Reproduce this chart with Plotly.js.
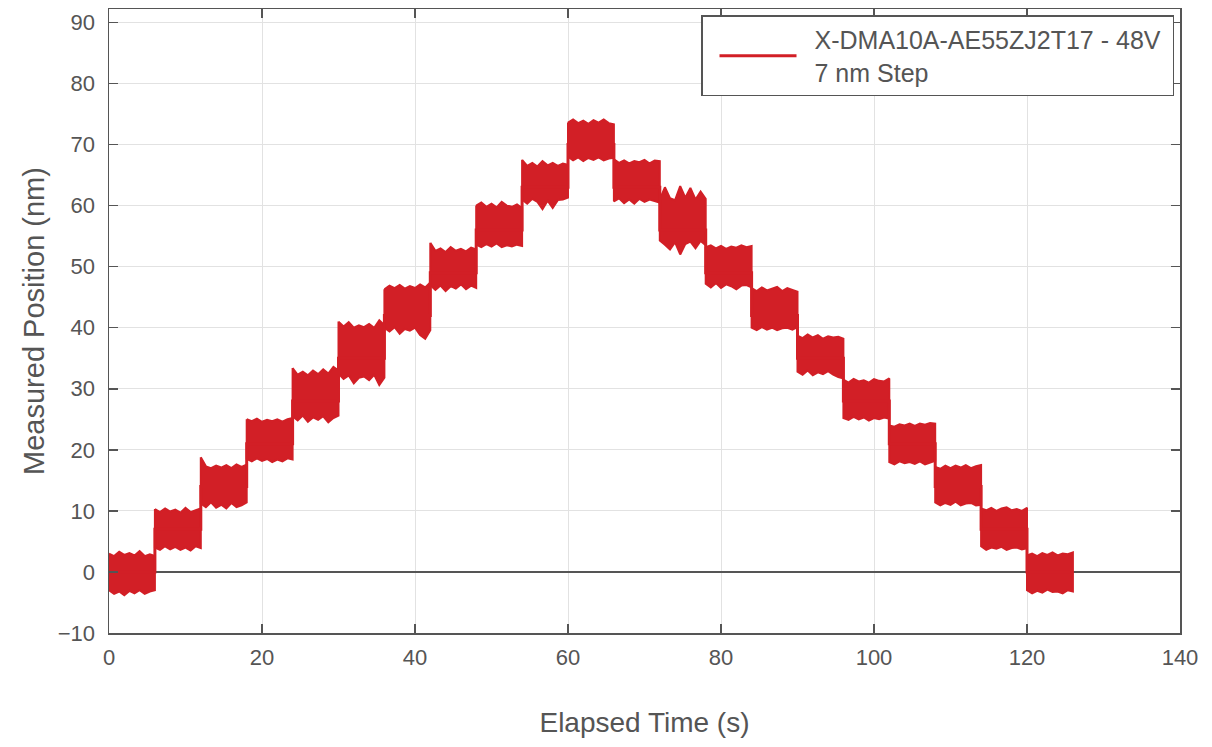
<!DOCTYPE html>
<html>
<head>
<meta charset="utf-8">
<script src="https://cdn.plot.ly/plotly-3.0.1.min.js"></script>
<style>html,body{margin:0;padding:0;background:#fff}#chart{width:1212px;height:747px}</style>
</head>
<body>
<div id="chart"></div>
<script>
// Step start times (s) and nominal step levels (nm), 7 nm steps
const stepStart = [0, 6, 12, 18, 24, 30, 36, 42, 48, 54, 60, 66, 72, 78, 84, 90, 96, 102, 108, 114, 120];
const stepLevel = [0, 7, 14, 21, 28, 35, 42, 49, 56, 63, 70, 63, 56, 49, 42, 35, 28, 21, 14, 7, 0];
const stepDuration = 6;

// Upper envelope of the measured noise within each step (nm), read left to right
const stepUpper = [
  [3.0, 2.6, 3.3, 2.8, 3.1, 2.7, 3.4, 2.6, 2.9, 2.6],
  [10.3, 9.8, 10.4, 9.9, 10.2, 9.7, 10.5, 9.8, 10.1, 10.4],
  [18.8, 17.3, 17.0, 17.4, 17.1, 17.5, 17.0, 17.6, 17.2, 17.6],
  [25.0, 24.7, 25.1, 24.6, 24.9, 24.7, 25.0, 24.6, 25.0, 25.2],
  [33.4, 32.3, 32.8, 32.2, 33.0, 32.4, 33.2, 32.5, 33.6, 33.0],
  [41.0, 40.2, 40.9, 40.0, 40.4, 40.1, 40.6, 40.0, 41.2, 40.4],
  [46.3, 46.9, 46.5, 47.0, 46.4, 46.8, 46.5, 47.1, 46.6, 47.4],
  [53.9, 52.6, 53.0, 52.4, 53.2, 52.6, 52.9, 52.5, 53.1, 52.8],
  [60.0, 60.5, 59.8, 60.3, 59.7, 60.6, 60.0, 59.8, 60.2, 59.6],
  [67.5, 66.5, 67.0, 66.4, 67.3, 66.6, 67.0, 66.5, 66.9, 66.7],
  [73.6, 74.1, 73.5, 73.9, 73.4, 74.0, 73.6, 74.1, 73.5, 73.3],
  [67.6, 67.0, 67.4, 66.9, 67.3, 67.1, 67.5, 66.9, 67.4, 67.3],
  [61.0, 63.0, 61.2, 60.9, 63.2, 61.3, 62.9, 61.0, 62.3, 61.1],
  [53.2, 53.5, 53.0, 53.4, 52.9, 53.3, 53.1, 53.5, 53.2, 53.4],
  [46.5, 46.0, 46.6, 46.1, 46.4, 46.7, 46.0, 46.5, 46.2, 45.9],
  [38.7, 38.3, 38.9, 38.4, 38.8, 38.2, 38.6, 38.4, 38.5, 38.2],
  [31.5, 31.0, 31.6, 31.2, 31.4, 31.0, 31.6, 31.3, 31.2, 31.7],
  [24.0, 23.8, 24.2, 24.0, 24.3, 23.9, 24.3, 24.1, 24.4, 24.3],
  [17.2, 16.9, 17.4, 17.0, 17.4, 17.1, 17.5, 17.0, 17.3, 17.5],
  [10.4, 10.1, 10.5, 10.0, 10.4, 10.6, 10.1, 10.3, 10.0, 10.5],
  [2.7, 3.0, 2.6, 3.1, 2.8, 3.2, 2.7, 3.0, 2.9, 3.2]
];

// Lower envelope of the measured noise within each step (nm), read left to right
const stepLower = [
  [-3.0, -3.6, -3.2, -3.8, -3.1, -3.5, -3.0, -3.6, -3.2, -3.0],
  [4.0, 3.6, 4.2, 3.7, 4.1, 3.6, 4.0, 3.5, 4.2, 3.9],
  [11.2, 10.6, 11.4, 10.5, 11.0, 10.4, 11.3, 10.6, 10.9, 11.4],
  [18.5, 18.1, 18.6, 18.2, 18.5, 18.0, 18.4, 18.1, 18.6, 18.4],
  [25.5, 24.8, 25.6, 24.6, 25.3, 24.9, 25.5, 24.5, 25.2, 25.6],
  [32.5, 31.6, 32.2, 30.9, 31.8, 32.0, 31.4, 32.3, 30.6, 31.8],
  [40.0, 39.4, 40.1, 39.0, 39.8, 39.5, 40.0, 38.8, 38.2, 39.6],
  [47.0, 46.2, 46.9, 46.0, 46.8, 46.4, 47.1, 46.3, 46.9, 46.5],
  [53.6, 53.2, 53.7, 53.3, 53.8, 53.2, 53.5, 53.3, 53.6, 53.4],
  [61.0, 60.3, 61.1, 60.6, 59.4, 60.8, 59.6, 60.9, 61.0, 61.3],
  [68.0, 67.4, 67.9, 67.3, 67.8, 67.5, 67.9, 67.4, 67.7, 67.8],
  [60.7, 61.2, 60.4, 61.0, 60.3, 61.1, 60.6, 61.0, 60.8, 60.5],
  [54.3, 53.6, 52.8, 54.0, 52.0, 53.7, 54.1, 53.0, 54.2, 53.5],
  [47.2, 46.6, 47.3, 46.5, 47.1, 46.8, 46.3, 46.9, 47.0, 46.6],
  [40.0, 39.6, 40.1, 39.7, 40.0, 39.6, 39.9, 40.0, 39.7, 40.1],
  [32.8, 32.3, 33.0, 32.2, 32.7, 32.4, 32.9, 32.3, 31.9, 31.7],
  [25.2, 24.9, 25.4, 25.0, 25.3, 24.8, 25.2, 25.0, 25.3, 25.1],
  [18.0, 17.6, 18.1, 17.8, 18.0, 17.7, 18.1, 17.6, 17.9, 18.2],
  [11.4, 10.9, 11.3, 11.0, 11.5, 10.9, 11.2, 11.3, 10.9, 11.0],
  [4.2, 3.6, 4.0, 3.8, 4.1, 3.6, 3.9, 4.0, 3.7, 3.9],
  [-3.0, -3.5, -3.1, -3.4, -2.9, -3.3, -3.2, -3.5, -3.0, -3.2]
];

const xTickVals = [0, 20, 40, 60, 80, 100, 120, 140];
const yTickVals = [-10, 0, 10, 20, 30, 40, 50, 60, 70, 80, 90];
const seriesName = 'X-DMA10A-AE55ZJ2T17 - 48V\u00a0<br>7 nm Step';

const RED = '#d21f26';

// Build noise band polygons (one per step, separated by gaps)
const bandX = [], bandY = [];
stepStart.forEach((t0, k) => {
  const up = stepUpper[k], lo = stepLower[k];
  const n = up.length;
  const tAt = i => t0 + i * stepDuration / (n - 1);
  for (let i = 0; i < n; i++) { bandX.push(tAt(i)); bandY.push(up[i]); }
  for (let i = n - 1; i >= 0; i--) { bandX.push(tAt(i)); bandY.push(lo[i]); }
  bandX.push(tAt(0)); bandY.push(up[0]);
  bandX.push(null); bandY.push(null);
});

// Step path through nominal levels (gives the vertical transitions and legend line)
const lvlX = [], lvlY = [];
stepStart.forEach((t0, k) => {
  lvlX.push(t0, t0 + stepDuration);
  lvlY.push(stepLevel[k], stepLevel[k]);
});

const traces = [
  {
    x: bandX, y: bandY, type: 'scatter', mode: 'lines',
    fill: 'toself', fillcolor: RED,
    line: {color: RED, width: 2}, showlegend: false, hoverinfo: 'skip'
  },
  {
    x: lvlX, y: lvlY, type: 'scatter', mode: 'lines',
    line: {color: RED, width: 3}, name: seriesName
  }
];

const axisCommon = {
  showgrid: true, gridcolor: '#e2e2e2', gridwidth: 1,
  ticks: 'inside', ticklen: 9, tickwidth: 1.5, tickcolor: '#555',
  showline: true, linecolor: '#555', linewidth: 1.5, mirror: 'ticks',
  tickfont: {size: 22, color: '#555'},
  automargin: false
};

const layout = {
  width: 1212, height: 747,
  margin: {l: 109, r: 32, t: 9, b: 114, pad: 0},
  paper_bgcolor: '#fff', plot_bgcolor: '#fff',
  font: {family: 'Liberation Sans, Arial, sans-serif', color: '#555'},
  xaxis: Object.assign({}, axisCommon, {
    range: [0, 140], tickvals: xTickVals, zeroline: false,
    ticklabelstandoff: 4,
    title: {text: 'Elapsed Time (s)', font: {size: 28, color: '#555'}, standoff: 43}
  }),
  yaxis: Object.assign({}, axisCommon, {
    range: [-10, 92.2], tickvals: yTickVals,
    zeroline: true, zerolinecolor: '#555', zerolinewidth: 1.3,
    ticklabelstandoff: 8,
    title: {text: 'Measured Position (nm)', font: {size: 29, color: '#555'}, standoff: 4}
  }),
  legend: {
    x: 0.9944, xanchor: 'right', y: 0.99, yanchor: 'top',
    bgcolor: '#fff', bordercolor: '#555', borderwidth: 1.5,
    font: {size: 25, color: '#555'}, itemwidth: 102
  },
  showlegend: true
};

Plotly.newPlot('chart', traces, layout, {displayModeBar: false, staticPlot: true}).then(gd => {
  document.querySelectorAll('.legendlines path').forEach(p => p.setAttribute('d', 'M17,0h77'));
});
</script>
</body>
</html>
